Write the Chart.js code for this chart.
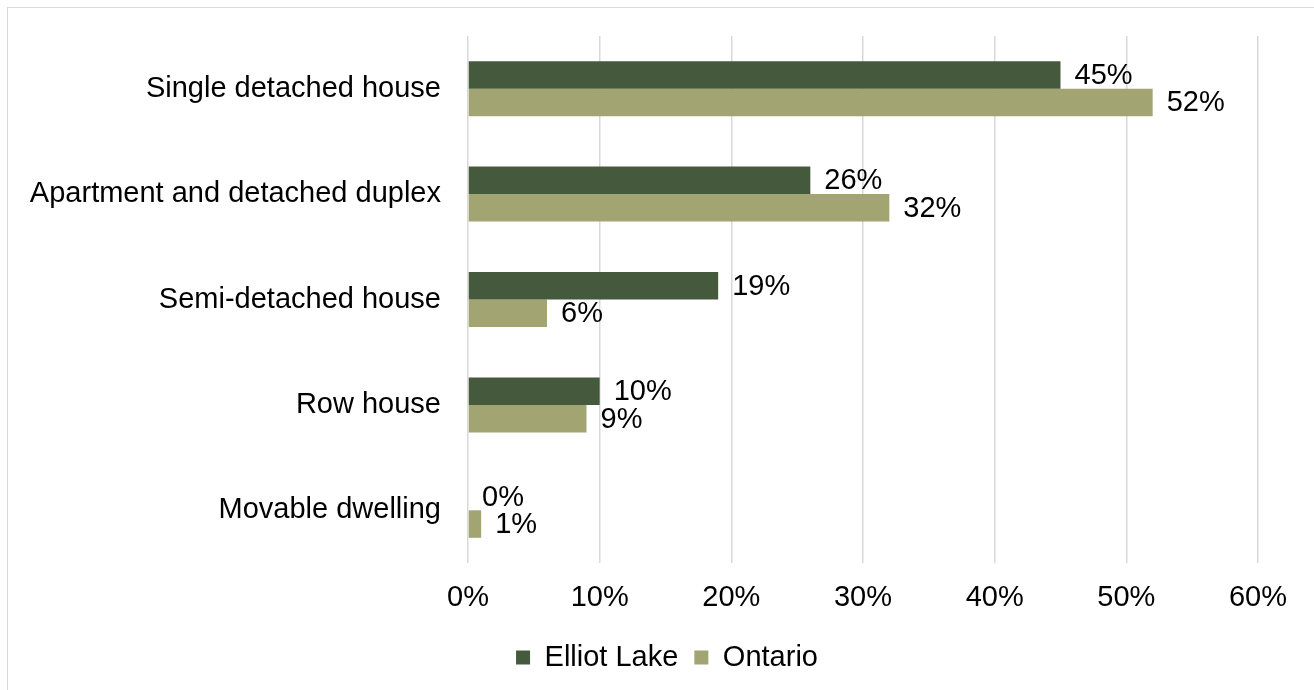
<!DOCTYPE html>
<html>
<head>
<meta charset="utf-8">
<title>Dwelling types</title>
<script src="https://cdn.jsdelivr.net/npm/chart.js@4/dist/chart.umd.min.js"></script>
<style>
  body { margin: 0; background: #fff; overflow: hidden; }
  #wrap { position: relative; width: 1314px; height: 690px; }
  #frame {
    position: absolute; left: 7px; top: 7px; width: 1400px; height: 800px;
    border: 1px solid #d9d9d9; box-sizing: border-box;
  }
  #chart { position: absolute; left: 0; top: 0; }
</style>
</head>
<body>
<div id="wrap">
  <div id="frame"></div>
  <canvas id="chart" width="1314" height="690"></canvas>
</div>
<script>
// Dwelling types, share of occupied dwellings
const categories = [
    'Single detached house',
    'Apartment and detached duplex',
    'Semi-detached house',
    'Row house',
    'Movable dwelling'
];
const elliotLake = [45, 26, 19, 10, 0];
const ontario = [52, 32, 6, 9, 1];
const xTicks = [0, 10, 20, 30, 40, 50, 60];

const FONT_FAMILY = '"Liberation Sans", Arial, sans-serif';
const FONT_SIZE = 29;

// Writes the value at the end of every bar
const barValueLabels = {
    id: 'barValueLabels',
    afterDatasetsDraw(chart) {
        const ctx = chart.ctx;
        ctx.save();
        ctx.font = `${FONT_SIZE}px ${FONT_FAMILY}`;
        ctx.fillStyle = '#000';
        ctx.textAlign = 'left';
        ctx.textBaseline = 'middle';
        chart.data.datasets.forEach((ds, i) => {
            chart.getDatasetMeta(i).data.forEach((bar, j) => {
                ctx.fillText(ds.data[j] + '%', bar.x + 14, bar.y + 1);
            });
        });
        ctx.restore();
    }
};

// Legend sits centred under the whole frame, not under the canvas minus padding
const legendShift = {
    id: 'legendShift',
    afterLayout(chart) {
        chart.legend.left += 38;
        chart.legend.right += 38;
    }
};

window.onload = function() {
    const ctx = document.getElementById('chart').getContext('2d');

    new Chart(ctx, {
        type: 'bar',
        data: {
            labels: categories,
            datasets: [
                {
                    label: 'Elliot Lake',
                    data: elliotLake,
                    backgroundColor: '#455a3c',
                    borderWidth: 0
                },
                {
                    label: 'Ontario',
                    data: ontario,
                    backgroundColor: '#a2a572',
                    borderWidth: 0
                }
            ]
        },
        options: {
            indexAxis: 'y',
            responsive: false,
            devicePixelRatio: 1,
            animation: false,
            categoryPercentage: 0.522,
            barPercentage: 1,
            layout: {
                padding: { left: 0, top: 36, right: 56, bottom: 8 }
            },
            scales: {
                x: {
                    min: 0,
                    max: 60,
                    afterBuildTicks: (scale) => {
                        scale.ticks = xTicks.map(v => ({ value: v }));
                    },
                    afterFit: (scale) => { scale.height = 64; },
                    ticks: {
                        callback: (v) => v + '%',
                        color: '#000',
                        padding: 18,
                        maxRotation: 0,
                        font: { family: FONT_FAMILY, size: FONT_SIZE }
                    },
                    grid: {
                        color: '#d9d9d9',
                        lineWidth: 1.5,
                        drawTicks: false
                    },
                    border: { display: false }
                },
                y: {
                    afterFit: (scale) => {
                        scale.width = 468;
                        scale.paddingTop = 0;
                        scale.paddingBottom = 0;
                    },
                    ticks: {
                        color: '#000',
                        padding: 27,
                        font: { family: FONT_FAMILY, size: FONT_SIZE }
                    },
                    grid: { display: false, drawTicks: false },
                    border: { display: false }
                }
            },
            plugins: {
                legend: {
                    position: 'bottom',
                    labels: {
                        boxWidth: 14,
                        boxHeight: 14,
                        padding: 16,
                        color: '#000',
                        font: { family: FONT_FAMILY, size: FONT_SIZE }
                    }
                },
                tooltip: { enabled: false }
            }
        },
        plugins: [barValueLabels, legendShift]
    });
};
</script>
</body>
</html>
